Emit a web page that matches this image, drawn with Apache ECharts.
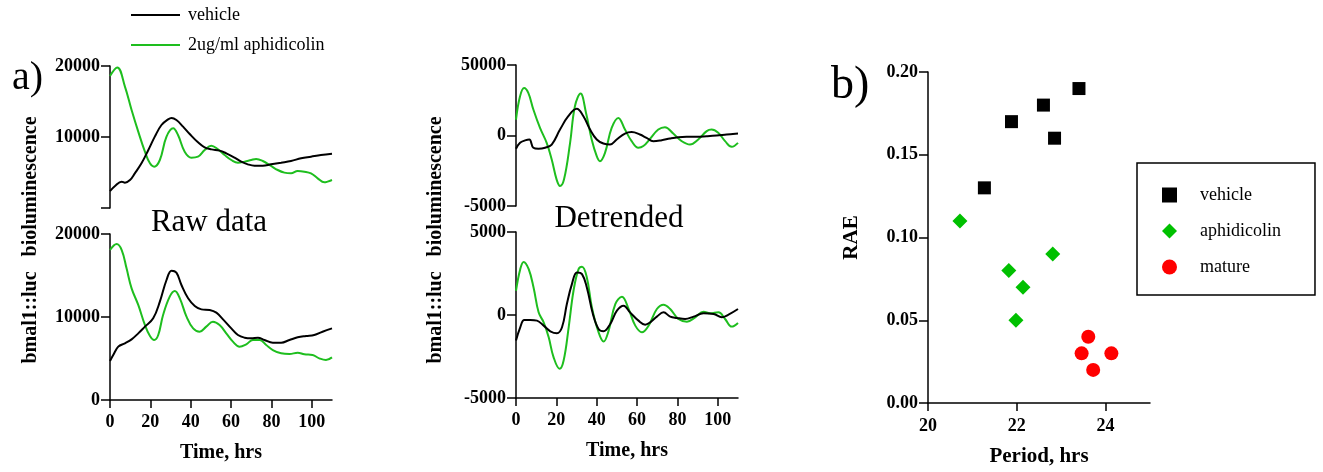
<!DOCTYPE html>
<html>
<head>
<meta charset="utf-8">
<script src="https://cdn.jsdelivr.net/npm/echarts@6/dist/echarts.min.js"></script>
<style>
	html, body { margin: 0; padding: 0; background: #fff; }
	#main { width: 1323px; height: 472px; }
</style>
</head>
<body>
<div id="main"></div>
<script>
// a) 原始数据 (上)
var rawTopVehicleT = [0, 2.5, 5.8, 7.4, 9.9, 12.3, 15.6, 19, 22.2, 25.5, 28.8, 30.5, 32.9, 36.2, 39.5, 43.6, 46.9, 50.2, 54.3, 57.6, 61.7, 65, 68.3, 71.6, 75.7, 79.8, 84.8, 89.7, 94.7, 99.6, 104.5, 110];
var rawTopVehicleY = [2390, 3100, 3710, 3570, 3940, 4880, 6290, 8170, 10050, 11690, 12490, 12680, 12390, 11460, 10420, 9250, 8540, 8260, 8080, 7700, 7090, 6530, 6150, 5960, 5960, 6150, 6380, 6620, 7000, 7230, 7460, 7650];
var rawTopAphT = [0, 3.6, 7.4, 10.7, 14, 17.3, 19.8, 21.9, 24.7, 28, 31.3, 33.7, 37, 40.3, 43.6, 46.9, 50.2, 53.5, 56.8, 60.1, 63.4, 66.7, 70, 72.4, 75.7, 79.8, 83.1, 86.4, 89.7, 93, 96.3, 99.6, 102.9, 106.2, 107.8, 110];
var rawTopAphY = [18600, 19800, 17100, 13800, 10750, 7930, 6290, 5820, 6760, 10050, 11220, 10280, 7930, 7090, 7230, 8170, 8780, 8260, 7460, 6760, 6380, 6530, 6760, 6900, 6620, 5920, 5350, 4980, 4880, 5210, 5120, 4880, 4180, 3610, 3710, 3940];
// a) 原始数据 (下)
var rawBotVehicleT = [0, 1.6, 4.1, 7.4, 10.7, 14, 17.3, 21.4, 24.7, 28, 30.5, 32.9, 35.4, 38.7, 42, 45.3, 49.4, 52.7, 56, 60.1, 63.4, 66.7, 70, 73.3, 76.5, 80.7, 84.8, 88.9, 93, 97.1, 101.2, 105.3, 110];
var rawBotVehicleY = [4700, 5420, 6430, 6830, 7310, 8030, 8840, 9840, 11850, 14460, 15580, 15340, 13860, 12250, 11330, 10920, 10840, 10520, 9720, 8630, 7830, 7510, 7430, 7510, 7230, 6910, 6910, 7230, 7550, 7710, 7830, 8230, 8630];
var rawBotAphT = [0, 3.3, 5.8, 8.2, 10.7, 14, 17.3, 19.8, 21.9, 23.9, 26.3, 29.6, 32.1, 34.6, 37.9, 41.2, 44.4, 47.7, 51, 54.3, 57.6, 60.9, 64.2, 67.5, 70.8, 74.1, 77.4, 80.7, 84.8, 88.9, 93, 96.3, 100.4, 103.7, 107, 110];
var rawBotAphY = [18070, 18800, 18070, 15860, 13450, 11450, 9040, 7710, 7230, 7830, 10240, 12450, 13130, 12250, 10040, 8630, 8230, 8840, 9440, 9040, 8030, 7030, 6430, 6710, 7230, 7230, 6630, 6020, 5620, 5540, 5700, 5500, 5420, 5020, 4820, 5140];
// 去趋势 (上)
var detTopVehicleT = [0, 2, 4.5, 6.6, 8.6, 11.1, 14.4, 17.7, 21.8, 25.9, 30.1, 33.4, 36.7, 40, 43.3, 46.6, 49.9, 54, 57.3, 61.4, 64.7, 68, 72.2, 76.3, 80.4, 84.5, 89.5, 94.5, 99.4, 104.4, 110];
var detTopVehicleY = [-940, -520, -350, -280, -870, -940, -870, -640, 420, 1370, 1890, 1370, 420, -280, -570, -640, -280, 140, 240, 70, -170, -400, -330, -210, -120, -90, -90, -50, 0, 70, 140];
var detTopAphT = [0, 2, 4, 6.1, 8.6, 11.9, 15.2, 17.7, 20.1, 21.8, 23.8, 26.8, 29.2, 32, 34.7, 37.5, 40, 41.6, 44.1, 47.4, 50.7, 54, 57.3, 60.6, 63.1, 66.4, 70.5, 73.8, 77.9, 82.1, 86.2, 90.3, 94.5, 96.9, 100.2, 103.6, 106.9, 110];
var detTopAphY = [1130, 2780, 3370, 3020, 1840, 540, -520, -1700, -3110, -3580, -3110, -520, 2080, 2970, 1600, -280, -1460, -1820, -1230, 540, 1250, 420, -400, -870, -750, -240, 420, 590, 140, -400, -640, -280, 310, 420, 190, -400, -800, -520];
// 去趋势 (下)
var detBotVehicleT = [0, 2.1, 4.1, 7.1, 10.4, 13.7, 17, 20.3, 22.8, 25.2, 27.7, 30.2, 32.7, 35.1, 38.1, 40.9, 43.4, 46.7, 50, 53.3, 56.5, 60.7, 64, 66.5, 69.8, 73.1, 76.4, 79.7, 83.8, 88, 92.9, 97.9, 102, 105.3, 110];
var detBotVehicleY = [-1540, -740, -300, -300, -340, -640, -980, -1100, -740, 660, 1860, 2560, 2460, 1660, 60, -840, -980, -540, 260, 560, 160, -340, -580, -440, -100, 160, -100, -180, -240, -100, 100, 60, -140, 20, 360];
var detBotAphT = [0, 2.1, 3.8, 6.3, 8.7, 11.2, 13.7, 16.2, 18.6, 21.6, 23.6, 26.1, 28.5, 31, 32.7, 35.1, 37.6, 40.9, 43.4, 45.9, 49.2, 52.5, 55.8, 59.1, 62.4, 65.7, 69.8, 73.1, 76.4, 80.5, 84.7, 88.8, 92.9, 96.2, 100.3, 103.6, 106.9, 110];
var detBotAphY = [1460, 2760, 3200, 2760, 1660, 160, -440, -1340, -2540, -3240, -2740, -740, 1460, 2760, 2900, 2260, 460, -1040, -1600, -940, 660, 1100, 360, -640, -1040, -640, 360, 620, 360, -240, -400, -140, 200, 100, 160, -240, -700, -480];
// b) 周期 vs RAE
var vehiclePeriod = [21.27, 21.88, 22.6, 22.85, 23.4];
var vehicleRAE = [0.13, 0.17, 0.18, 0.16, 0.19];
var aphPeriod = [20.72, 21.82, 22.14, 21.98, 22.81];
var aphRAE = [0.11, 0.08, 0.07, 0.05, 0.09];
var maturePeriod = [23.61, 23.46, 24.13, 23.72];
var matureRAE = [0.04, 0.03, 0.03, 0.02];
// 刻度
var rawTicks = [0, 10000, 20000];
var rawTopLabels = ['', '10000', '20000'];
var rawBotLabels = ['0', '10000', '20000'];
var detTicks = [-5000, 0, 5000];
var detTopLabels = ['-5000', '0', '50000'];
var detBotLabels = ['-5000', '0', '5000'];
var timeTicks = [0, 20, 40, 60, 80, 100];
var periodTicks = [20, 22, 24];
var raeTicks = [0, 0.05, 0.1, 0.15, 0.2];
var raeLabels = ['0.00', '0.05', '0.10', '0.15', '0.20'];

var serif = '"Liberation Serif", "Times New Roman", serif';
var green = '#1ebe1e';

function pairs(xs, ys) {
	var out = [];
	for (var i = 0; i < xs.length; i++) {
		out.push([xs[i], ys[i]]);
	}
	return out;
}
function lookup(ticks, labels) {
	return function (v) {
		for (var i = 0; i < ticks.length; i++) {
			if (Math.abs(ticks[i] - v) < 1e-9) return labels[i];
		}
		return '';
	};
}
var tickLabel = {
	color: '#000',
	fontFamily: serif,
	fontWeight: 'bold',
	fontSize: 18
};
function yAxisCfg(gridIndex, min, max, interval, fmt) {
	return {
		type: 'value',
		gridIndex: gridIndex,
		min: min,
		max: max,
		interval: interval,
		splitLine: { show: false },
		axisLine: { show: true, lineStyle: { color: '#000', width: 1.5 } },
		axisTick: { show: true, length: 9, lineStyle: { color: '#000', width: 1.5 } },
		axisLabel: Object.assign({ margin: 10, formatter: fmt }, tickLabel)
	};
}
function timeAxis(gridIndex, show) {
	return {
		type: 'value',
		gridIndex: gridIndex,
		min: 0,
		max: 110,
		show: show,
		name: 'Time, hrs',
		nameLocation: 'middle',
		nameGap: 43,
		nameTextStyle: { color: '#000', fontFamily: serif, fontWeight: 'bold', fontSize: 20 },
		splitLine: { show: false },
		axisLine: { show: true, onZero: false, lineStyle: { color: '#000', width: 1.5 } },
		axisTick: { show: true, length: 8, customValues: timeTicks, lineStyle: { color: '#000', width: 1.5 } },
		axisLabel: Object.assign({ margin: 13, customValues: timeTicks }, tickLabel)
	};
}
function lineSeries(name, color, xi, xs, ys) {
	return {
		name: name,
		type: 'line',
		xAxisIndex: xi,
		yAxisIndex: xi,
		symbol: 'none',
		smooth: 0.4,
		color: color,
		lineStyle: { color: color, width: 2, opacity: 1 },
		data: pairs(xs, ys),
		animation: false
	};
}
function scatterSeries(name, color, symbol, size, xs, ys) {
	return {
		name: name,
		type: 'scatter',
		xAxisIndex: 4,
		yAxisIndex: 4,
		symbol: symbol,
		symbolSize: size,
		itemStyle: { color: color, opacity: 1 },
		data: pairs(xs, ys),
		animation: false
	};
}

var chart = echarts.init(document.getElementById('main'), null, { renderer: 'canvas' });
var option = {
	backgroundColor: '#fff',
	animation: false,
	grid: [
		{ left: 110, top: 66, width: 222, height: 142 },
		{ left: 110, top: 234, width: 222, height: 166 },
		{ left: 516, top: 65, width: 222, height: 141 },
		{ left: 516, top: 232, width: 222, height: 166 },
		{ left: 928, top: 72, width: 222, height: 333 }
	],
	xAxis: [
		timeAxis(0, false),
		timeAxis(1, true),
		timeAxis(2, false),
		timeAxis(3, true),
		{
			type: 'value',
			gridIndex: 4,
			min: 20,
			max: 25,
			name: 'Period, hrs',
			nameLocation: 'middle',
			nameGap: 43,
			nameTextStyle: { color: '#000', fontFamily: serif, fontWeight: 'bold', fontSize: 21 },
			splitLine: { show: false },
			axisLine: { show: true, onZero: false, lineStyle: { color: '#000', width: 1.5 } },
			axisTick: { show: true, length: 8, customValues: periodTicks, lineStyle: { color: '#000', width: 1.5 } },
			axisLabel: Object.assign({ margin: 14, customValues: periodTicks }, tickLabel)
		}
	],
	yAxis: [
		yAxisCfg(0, 0, 20000, 10000, lookup(rawTicks, rawTopLabels)),
		yAxisCfg(1, 0, 20000, 10000, lookup(rawTicks, rawBotLabels)),
		yAxisCfg(2, -5000, 5000, 5000, lookup(detTicks, detTopLabels)),
		yAxisCfg(3, -5000, 5000, 5000, lookup(detTicks, detBotLabels)),
		Object.assign(yAxisCfg(4, 0, 0.2, 0.05, lookup(raeTicks, raeLabels)), {
			name: 'RAE',
			nameLocation: 'middle',
			nameGap: 66,
			nameTextStyle: { color: '#000', fontFamily: serif, fontWeight: 'bold', fontSize: 21 }
		})
	],
	legend: [
		{
			left: 131,
			top: 5,
			orient: 'vertical',
			padding: 0,
			itemWidth: 49,
			itemHeight: 2,
			itemGap: 10,
			itemStyle: { borderWidth: 0 },
			textStyle: { color: '#000', fontFamily: serif, fontSize: 18, lineHeight: 20, padding: [0, 0, 0, 3] },
			data: [
				{ name: 'vehicle', icon: 'rect' },
				{ name: '2ug/ml aphidicolin', icon: 'rect' }
			],
			selectedMode: false
		},
		{
			left: 1137,
			top: 163,
			orient: 'vertical',
			padding: [23, 34, 19, 25],
			borderColor: '#000',
			borderWidth: 1.5,
			borderRadius: 0,
			itemWidth: 15,
			itemHeight: 15,
			itemGap: 18,
			itemStyle: { borderWidth: 0, opacity: 1 },
			textStyle: { color: '#000', fontFamily: serif, fontSize: 18, lineHeight: 18, padding: [0, 0, 0, 18] },
			data: [
				{ name: 'vehicle', icon: 'rect' },
				{ name: 'aphidicolin', icon: 'diamond' },
				{ name: 'mature', icon: 'circle' }
			],
			selectedMode: false
		}
	],
	graphic: [
		{ type: 'text', x: 12, y: 78, style: { text: 'a)', font: '40px ' + serif, fill: '#000', textVerticalAlign: 'middle' } },
		{ type: 'text', x: 831, y: 86, style: { text: 'b)', font: '46px ' + serif, fill: '#000', textVerticalAlign: 'middle' } },
		{ type: 'text', x: 209, y: 223, style: { text: 'Raw data', font: '31px ' + serif, fill: '#000', textAlign: 'center', textVerticalAlign: 'middle' } },
		{ type: 'text', x: 619, y: 219, style: { text: 'Detrended', font: '31px ' + serif, fill: '#000', textAlign: 'center', textVerticalAlign: 'middle' } },
		{ type: 'text', x: 31, y: 240, rotation: Math.PI / 2, style: { text: 'bmal1::luc   bioluminescence', font: 'bold 20px ' + serif, fill: '#000', textAlign: 'center', textVerticalAlign: 'middle' } },
		{ type: 'text', x: 436, y: 240, rotation: Math.PI / 2, style: { text: 'bmal1::luc   bioluminescence', font: 'bold 20px ' + serif, fill: '#000', textAlign: 'center', textVerticalAlign: 'middle' } }
	],
	series: [
		lineSeries('2ug/ml aphidicolin', green, 0, rawTopAphT, rawTopAphY),
		lineSeries('vehicle', '#000', 0, rawTopVehicleT, rawTopVehicleY),
		lineSeries('2ug/ml aphidicolin', green, 1, rawBotAphT, rawBotAphY),
		lineSeries('vehicle', '#000', 1, rawBotVehicleT, rawBotVehicleY),
		lineSeries('2ug/ml aphidicolin', green, 2, detTopAphT, detTopAphY),
		lineSeries('vehicle', '#000', 2, detTopVehicleT, detTopVehicleY),
		lineSeries('2ug/ml aphidicolin', green, 3, detBotAphT, detBotAphY),
		lineSeries('vehicle', '#000', 3, detBotVehicleT, detBotVehicleY),
		scatterSeries('vehicle', '#000', 'rect', 13, vehiclePeriod, vehicleRAE),
		scatterSeries('aphidicolin', '#00c000', 'diamond', 15, aphPeriod, aphRAE),
		scatterSeries('mature', '#ff0000', 'circle', 14, maturePeriod, matureRAE)
	]
};
chart.setOption(option);
</script>
</body>
</html>
